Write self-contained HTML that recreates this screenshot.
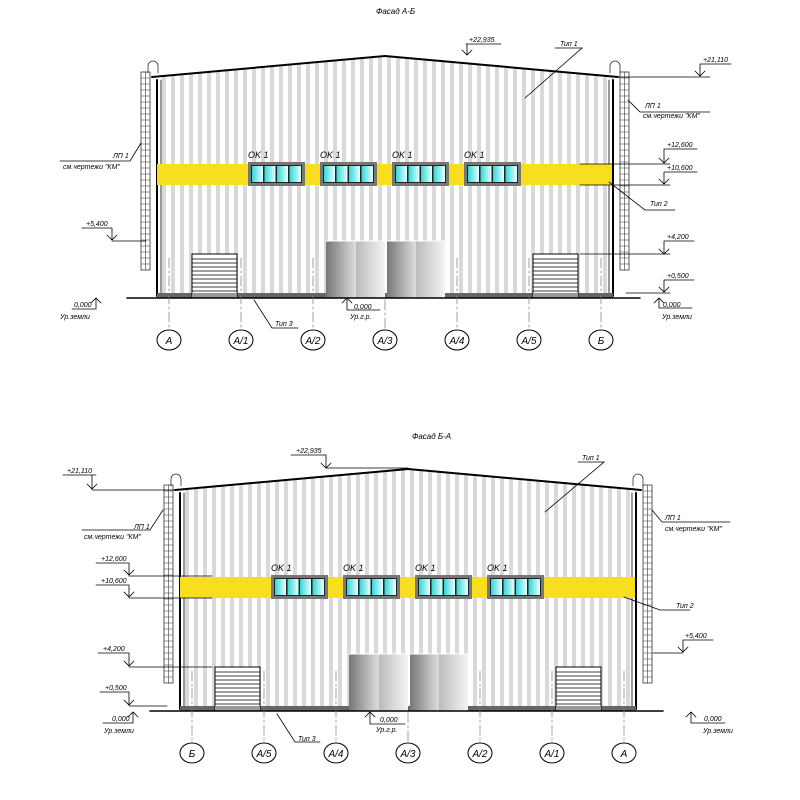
<!DOCTYPE html><html><head><meta charset="utf-8"><style>body{margin:0;background:#fff}svg{display:block}text{font-family:"Liberation Sans",sans-serif;font-style:italic;fill:#000}</style></head><body>
<svg width="800" height="800" viewBox="0 0 800 800" xmlns="http://www.w3.org/2000/svg">
<defs>
<pattern id="st" x="0" y="0" width="9" height="10" patternUnits="userSpaceOnUse"><rect width="9" height="10" fill="#fff"/><rect x="0" width="4" height="10" fill="#d9d9d9"/></pattern>
<linearGradient id="gl" x1="0" x2="1"><stop offset="0" stop-color="#33d6d6"/><stop offset="1" stop-color="#e8ffff"/></linearGradient>
<linearGradient id="dr" x1="0" x2="1"><stop offset="0" stop-color="#777"/><stop offset="1" stop-color="#ddd"/></linearGradient>
<linearGradient id="dr2" x1="0" x2="1"><stop offset="0" stop-color="#bbb"/><stop offset="1" stop-color="#f4f4f4"/></linearGradient>
<g id="win"><rect x="0" y="0" width="57" height="24" fill="#777"/><rect x="3" y="3" width="51" height="18" fill="#222"/>
<rect x="4" y="4" width="11" height="16" fill="url(#gl)"/><rect x="16.5" y="4" width="11" height="16" fill="url(#gl)"/><rect x="29" y="4" width="11" height="16" fill="url(#gl)"/><rect x="41.5" y="4" width="11.5" height="16" fill="url(#gl)"/></g>
<g id="shut"><rect x="0" y="0" width="45" height="44" fill="#fff" stroke="#000"/>
<path d="M0 5H45M0 9H45M0 13H45M0 17H45M0 21H45M0 25H45M0 29H45M0 33H45M0 37H45" stroke="#000" stroke-width="0.8"/><rect x="0" y="39" width="45" height="5" fill="#999"/></g>
<g id="lad"><rect x="0" y="0" width="9" height="198" fill="#fff" stroke="#333" stroke-width="0.8"/><path d="M4.5 0V198" stroke="#333" stroke-width="0.6"/>
<path d="M0 6H9M0 12H9M0 18H9M0 24H9M0 30H9M0 36H9M0 42H9M0 48H9M0 54H9M0 60H9M0 66H9M0 72H9M0 78H9M0 84H9M0 90H9M0 96H9M0 102H9M0 108H9M0 114H9M0 120H9M0 126H9M0 132H9M0 138H9M0 144H9M0 150H9M0 156H9M0 162H9M0 168H9M0 174H9M0 180H9M0 186H9M0 192H9" stroke="#333" stroke-width="0.6"/></g>
<g id="bld">
<polygon points="157,77 385,57 613,77 613,298 157,298" fill="url(#st)"/>
<polyline points="152,77 385,56 618,77" fill="none" stroke="#000" stroke-width="2"/>
<path d="M157 80V296M613 80V296" stroke="#000" stroke-width="2"/><path d="M161 80V294M609 80V294" stroke="#000" stroke-width="0.8"/>
<rect x="157" y="164" width="455" height="21" fill="#f7df1f"/>
<rect x="157" y="293" width="456" height="5" fill="#666"/>
<use href="#win" x="248" y="162"/><use href="#win" x="320" y="162"/><use href="#win" x="392" y="162"/><use href="#win" x="464" y="162"/>
<use href="#shut" x="192" y="254"/><use href="#shut" x="533" y="254"/>
<rect x="326" y="241" width="30" height="57" fill="url(#dr)"/><rect x="356" y="241" width="29" height="57" fill="url(#dr2)"/>
<rect x="387" y="241" width="29" height="57" fill="url(#dr)"/><rect x="416" y="241" width="29" height="57" fill="url(#dr2)"/>
<path d="M326 241H445" stroke="#fff"/>
<path d="M127 298H640" stroke="#000" stroke-width="1.6"/>
<g stroke="#777" stroke-width="0.7" stroke-dasharray="10,3,2,3" fill="none"><path d="M169 258V329M241 258V329M313 258V329M385 300V329M457 258V329M529 258V329M601 258V329"/></g>
<g fill="#fff" stroke="#000"><ellipse cx="169" cy="340" rx="12" ry="10"/><ellipse cx="241" cy="340" rx="12" ry="10"/><ellipse cx="313" cy="340" rx="12" ry="10"/><ellipse cx="385" cy="340" rx="12" ry="10"/><ellipse cx="457" cy="340" rx="12" ry="10"/><ellipse cx="529" cy="340" rx="12" ry="10"/><ellipse cx="601" cy="340" rx="12" ry="10"/></g>
<g font-size="9"><text x="248" y="158">OK 1</text><text x="320" y="158">OK 1</text><text x="392" y="158">OK 1</text><text x="464" y="158">OK 1</text></g>
</g>
</defs>
<g font-size="7" stroke-linecap="round">
<!-- TOP -->
<text x="376" y="14" font-size="8">Фасад А-Б</text>
<use href="#bld"/>
<use href="#lad" x="141" y="72"/><path d="M148 73V66A5 5 0 0 1 158 66V73" fill="none" stroke="#333" stroke-width="0.8"/>
<use href="#lad" x="620" y="72"/><path d="M610 73V66A5 5 0 0 1 620 66V73" fill="none" stroke="#333" stroke-width="0.8"/>
<g font-size="10" text-anchor="middle"><text x="169" y="344">А</text><text x="241" y="344">А/1</text><text x="313" y="344">А/2</text><text x="385" y="344">А/3</text><text x="457" y="344">А/4</text><text x="529" y="344">А/5</text><text x="601" y="344">Б</text></g>
<g stroke="#000" fill="none" stroke-width="0.8">
<path d="M466 44H501M467 44V55M462 50L467 55L472 50"/>
<path d="M700 64H731M700 64V76M695 71L700 76L705 71M618 77H710"/>
<path d="M664 149H697M664 149V163M659 158L664 163L669 158M580 164H670"/>
<path d="M664 172H697M664 172V184M659 179L664 184L669 179M580 185H670"/>
<path d="M664 241H694M664 241V254M659 249L664 254L669 249M580 254H670"/>
<path d="M664 280H694M664 280V292M659 287L664 292L669 287M626 293H670"/>
<path d="M659 308H692M659 308V298M654 303L659 298L664 303"/>
<path d="M72 309H96M96 309V298M91 303L96 298L101 303"/>
<path d="M82 228H112M112 228V240M107 235L112 240L117 235M112 241H146"/>
<path d="M60 161H130L141 143"/><path d="M628 100L640 112H710"/>
<path d="M555 48H582L525 98"/><path d="M609 182L645 210H675"/><path d="M254 300L272 328H298"/>
<path d="M347 310H380M347 310V298M342 303L347 298L352 303"/>
</g>
<text x="469" y="42">+22,935</text><text x="703" y="62">+21,110</text><text x="667" y="147">+12,600</text><text x="667" y="170">+10,600</text><text x="667" y="239">+4,200</text><text x="667" y="278">+0,500</text>
<text x="663" y="307">0,000</text><text x="662" y="319">Ур.земли</text><text x="74" y="307">0,000</text><text x="60" y="319">Ур.земли</text>
<text x="86" y="226">+5,400</text><text x="113" y="158">ЛП 1</text><text x="63" y="169">см.чертежи "КМ"</text>
<text x="645" y="108">ЛП 1</text><text x="643" y="118">см.чертежи "КМ"</text>
<text x="560" y="46">Тип 1</text><text x="650" y="206">Тип 2</text><text x="275" y="326">Тип 3</text>
<text x="354" y="309">0,000</text><text x="350" y="319">Ур.г.р.</text>
<!-- BOTTOM -->
<text x="412" y="439" font-size="8">Фасад Б-А</text>
<use href="#bld" x="23" y="413"/>
<use href="#lad" x="164" y="485"/><path d="M171 486V479A5 5 0 0 1 181 479V486" fill="none" stroke="#333" stroke-width="0.8"/>
<use href="#lad" x="643" y="485"/><path d="M633 486V479A5 5 0 0 1 643 479V486" fill="none" stroke="#333" stroke-width="0.8"/>
<g font-size="10" text-anchor="middle"><text x="192" y="757">Б</text><text x="264" y="757">А/5</text><text x="336" y="757">А/4</text><text x="408" y="757">А/3</text><text x="480" y="757">А/2</text><text x="552" y="757">А/1</text><text x="624" y="757">А</text></g>
<g stroke="#000" fill="none" stroke-width="0.8">
<path d="M291 455H326M326 455V468M321 463L326 468L331 463M326 468H408"/>
<path d="M63 475H96M92 475V489M87 484L92 489L97 484M92 490H175"/>
<path d="M96 563H129M129 563V575M124 570L129 575L134 570M129 576H212"/>
<path d="M96 585H129M129 585V597M124 592L129 597L134 592M129 598H212"/>
<path d="M98 653H129M129 653V666M124 661L129 666L134 661M129 667H212"/>
<path d="M100 692H129M129 692V705M124 700L129 705L134 700M129 706H167"/>
<path d="M103 723H133M133 723V712M128 717L133 712L138 717"/>
<path d="M691 723H725M691 723V712M686 717L691 712L696 717"/>
<path d="M683 640H713M683 640V652M678 647L683 652L688 647M653 653H683"/>
<path d="M82 530H150L163 510"/><path d="M652 510L662 522H730"/>
<path d="M578 462H604L545 512"/><path d="M624 597L660 610H690"/><path d="M277 714L295 742H320"/>
<path d="M370 724H405M370 724V712M365 717L370 712L375 717"/>
</g>
<text x="296" y="453">+22,935</text><text x="67" y="473">+21,110</text><text x="101" y="561">+12,600</text><text x="101" y="583">+10,600</text><text x="103" y="651">+4,200</text><text x="105" y="690">+0,500</text>
<text x="112" y="721">0,000</text><text x="104" y="733">Ур.земли</text><text x="704" y="721">0,000</text><text x="703" y="733">Ур.земли</text>
<text x="685" y="638">+5,400</text><text x="134" y="529">ЛП 1</text><text x="84" y="539">см.чертежи "КМ"</text>
<text x="665" y="520">ЛП 1</text><text x="665" y="531">см.чертежи "КМ"</text>
<text x="582" y="460">Тип 1</text><text x="676" y="608">Тип 2</text><text x="298" y="741">Тип 3</text>
<text x="380" y="722">0,000</text><text x="376" y="732">Ур.г.р.</text>
</g>
</svg>
</body></html>
